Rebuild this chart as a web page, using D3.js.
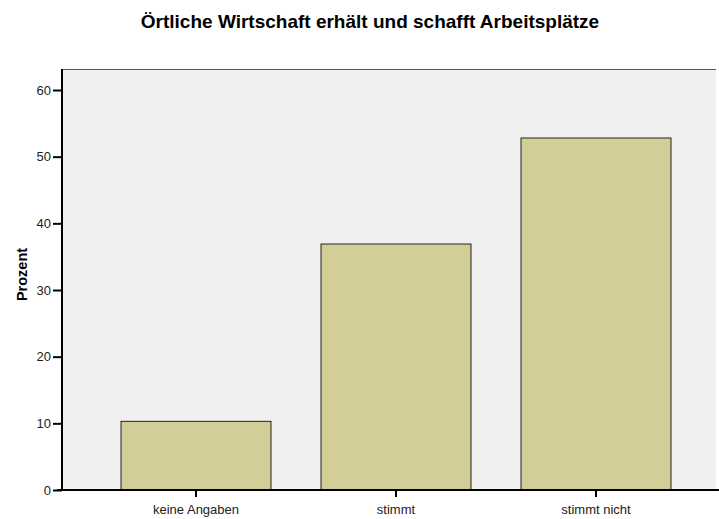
<!DOCTYPE html>
<html>
<head>
<meta charset="utf-8">
<script src="https://cdn.jsdelivr.net/npm/d3@7"></script>
<style>
  body { margin: 0; background: #fff; }
  svg { display: block; font-family: "Liberation Sans", Arial, sans-serif; }
</style>
</head>
<body>
<div id="chart"></div>
<script>
// Values (percent)
const categories = ["keine Angaben", "stimmt", "stimmt nicht"];
const percents = [10.3, 36.9, 52.8];
const yTicks = [0, 10, 20, 30, 40, 50, 60];

const W = 719, H = 519;
const plot = { left: 62, right: 716, top: 69, bottom: 490 };

const svg = d3.select("#chart").append("svg")
  .attr("width", W)
  .attr("height", H);

// Scales
const x = d3.scaleBand()
  .domain(categories)
  .range([96, 696])
  .paddingInner(0.25)
  .paddingOuter(0.125);

const y = d3.scaleLinear()
  .domain([0, 63.15])
  .range([plot.bottom, plot.top]);

// Plot background
svg.append("rect")
  .attr("x", plot.left)
  .attr("y", plot.top)
  .attr("width", plot.right - plot.left)
  .attr("height", plot.bottom - plot.top)
  .attr("fill", "#f0f0f0");

svg.append("line")
  .attr("x1", plot.left).attr("x2", plot.right)
  .attr("y1", plot.top + 0.5).attr("y2", plot.top + 0.5)
  .attr("stroke", "#555")
  .attr("stroke-width", 1);

// Bars
svg.selectAll(".bar")
  .data(categories)
  .enter()
  .append("rect")
  .attr("class", "bar")
  .attr("x", d => x(d))
  .attr("y", (d, i) => y(percents[i]))
  .attr("width", x.bandwidth())
  .attr("height", (d, i) => y(0) - y(percents[i]))
  .attr("fill", "#d3ce98")
  .attr("stroke", "#222")
  .attr("stroke-width", 1);

// Y axis
const yAxis = svg.append("g")
  .attr("transform", `translate(${plot.left},0)`)
  .call(d3.axisLeft(y).tickValues(yTicks).tickSize(9).tickPadding(2));
yAxis.select(".domain")
  .attr("d", `M0,${plot.top}V${plot.bottom}`)
  .attr("stroke", "#000").attr("stroke-width", 2);
yAxis.selectAll(".tick line").attr("stroke", "#000").attr("stroke-width", 2);
yAxis.selectAll(".tick text").attr("font-size", 13).attr("fill", "#222")
  .attr("font-family", "Liberation Sans, Arial, sans-serif");

// X axis
const xAxis = svg.append("g")
  .attr("transform", `translate(0,${plot.bottom})`)
  .call(d3.axisBottom(x).tickSize(7).tickPadding(8));
xAxis.select(".domain")
  .attr("d", `M${plot.left - 5},0H${plot.right + 3}`)
  .attr("stroke", "#000").attr("stroke-width", 2);
xAxis.selectAll(".tick line").attr("stroke", "#000").attr("stroke-width", 2);
xAxis.selectAll(".tick text").attr("font-size", 13).attr("fill", "#222")
  .attr("font-family", "Liberation Sans, Arial, sans-serif");

// Title
svg.append("text")
  .attr("x", 370)
  .attr("y", 28)
  .attr("text-anchor", "middle")
  .attr("font-size", 19)
  .attr("font-weight", "bold")
  .attr("fill", "#000")
  .text("Örtliche Wirtschaft erhält und schafft Arbeitsplätze");

// Y label
svg.append("text")
  .attr("transform", "translate(27,274.5) rotate(-90)")
  .attr("text-anchor", "middle")
  .attr("font-size", 14.5)
  .attr("font-weight", "bold")
  .attr("fill", "#000")
  .text("Prozent");
</script>
</body>
</html>
